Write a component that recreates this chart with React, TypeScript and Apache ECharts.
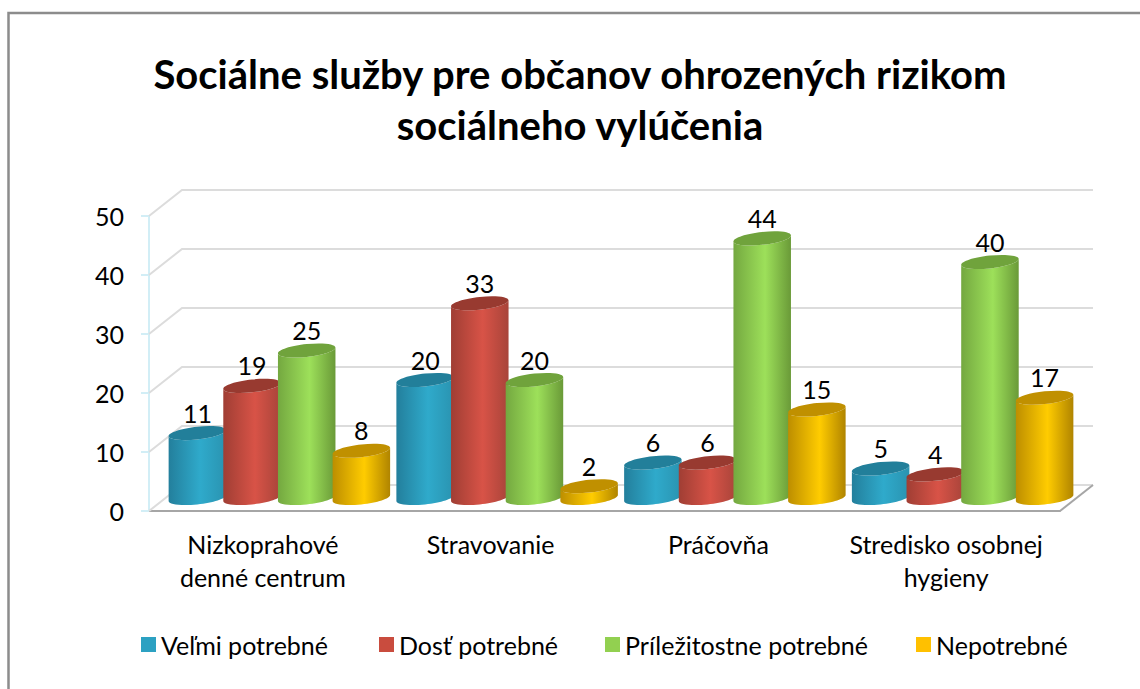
import React, { useEffect, useRef } from "react";
import * as echarts from "echarts";

const titleText = "Sociálne služby pre občanov ohrozených rizikom\nsociálneho vylúčenia";
const categories = ["Nizkoprahové\ndenné centrum", "Stravovanie", "Práčovňa", "Stredisko osobnej\nhygieny"];
const seriesNames = ["Veľmi potrebné", "Dosť potrebné", "Príležitostne potrebné", "Nepotrebné"];
const veryNeeded = [11, 20, 6, 5];
const quiteNeeded = [19, 33, 6, 4];
const occasionallyNeeded = [25, 20, 44, 40];
const notNeeded = [8, 2, 15, 17];
const yTicks = [0, 10, 20, 30, 40, 50];

const allValues = [veryNeeded, quiteNeeded, occasionallyNeeded, notNeeded];
const legendColors = ["#2ca1c2", "#c94c3e", "#92d050", "#ffc000"];
const topColors = ["#227f9a", "#983a30", "#70a33c", "#c09000"];
const gradients = [
  ["#237f9c", "#2faacb", "#2a93b0"],
  ["#a03e34", "#d85347", "#a8443a"],
  ["#74a840", "#9de05a", "#6a9a38"],
  ["#bd8e00", "#ffcc00", "#b08400"],
];
const legendLefts = [141, 379, 605, 916];

const DEPTH_X = 33;
const DEPTH_Y = 26;
const BAR_STEP_RATIO = 0.24;
const BAR_WIDTH_RATIO = 0.2525;
const K = 0.5523;

// Sheared ellipse: affine map of the unit circle, so that the right edge sits higher than the left.
function mapPoint(s: any, cy: number, u: number, v: number) {
  return [s.cx + s.a * u, cy + s.b * v - s.s * u];
}

const CylBody = echarts.graphic.extendShape({
  type: "cylBody",
  shape: { cx: 0, top: 0, base: 0, a: 1, b: 1, s: 0 },
  buildPath(ctx: any, shape: any) {
    const p = (u: number, v: number, cy: number) => mapPoint(shape, cy, u, v);
    const start = p(1, 0, shape.top);
    ctx.moveTo(start[0], start[1]);
    const r = p(1, 0, shape.base);
    ctx.lineTo(r[0], r[1]);
    let c1 = p(1, K, shape.base), c2 = p(K, 1, shape.base), e = p(0, 1, shape.base);
    ctx.bezierCurveTo(c1[0], c1[1], c2[0], c2[1], e[0], e[1]);
    c1 = p(-K, 1, shape.base); c2 = p(-1, K, shape.base); e = p(-1, 0, shape.base);
    ctx.bezierCurveTo(c1[0], c1[1], c2[0], c2[1], e[0], e[1]);
    e = p(-1, 0, shape.top);
    ctx.lineTo(e[0], e[1]);
    c1 = p(-1, K, shape.top); c2 = p(-K, 1, shape.top); e = p(0, 1, shape.top);
    ctx.bezierCurveTo(c1[0], c1[1], c2[0], c2[1], e[0], e[1]);
    c1 = p(K, 1, shape.top); c2 = p(1, K, shape.top); e = p(1, 0, shape.top);
    ctx.bezierCurveTo(c1[0], c1[1], c2[0], c2[1], e[0], e[1]);
    ctx.closePath();
  },
});

const CylTop = echarts.graphic.extendShape({
  type: "cylTop",
  shape: { cx: 0, top: 0, a: 1, b: 1, s: 0 },
  buildPath(ctx: any, shape: any) {
    const p = (u: number, v: number) => mapPoint(shape, shape.top, u, v);
    let e = p(1, 0);
    ctx.moveTo(e[0], e[1]);
    const segs = [
      [1, K, K, 1, 0, 1],
      [-K, 1, -1, K, -1, 0],
      [-1, -K, -K, -1, 0, -1],
      [K, -1, 1, -K, 1, 0],
    ];
    for (const q of segs) {
      const c1 = p(q[0], q[1]), c2 = p(q[2], q[3]);
      e = p(q[4], q[5]);
      ctx.bezierCurveTo(c1[0], c1[1], c2[0], c2[1], e[0], e[1]);
    }
    ctx.closePath();
  },
});

echarts.graphic.registerShape("cylBody", CylBody);
echarts.graphic.registerShape("cylTop", CylTop);

function cylinderRenderer(seriesIndex: number) {
  return (_params: any, api: any) => {
    const cat = api.value(0);
    const val = api.value(1);
    const band = api.size([1, 0])[0];
    const topPt = api.coord([cat, val]);
    const basePt = api.coord([cat, 0]);
    const cx = topPt[0] + DEPTH_X / 2 + (seriesIndex - 1.5) * band * BAR_STEP_RATIO;
    const top = topPt[1] - DEPTH_Y / 2;
    const base = basePt[1] - DEPTH_Y / 2;
    const a = (band * BAR_WIDTH_RATIO) / 2;
    const b = 6.4;
    const s = 3;
    const g = gradients[seriesIndex];
    return {
      type: "group",
      children: [
        {
          type: "cylBody",
          shape: { cx, top, base, a, b, s },
          style: {
            fill: new echarts.graphic.LinearGradient(0, 0, 1, 0, [
              { offset: 0, color: g[0] },
              { offset: 0.55, color: g[1] },
              { offset: 1, color: g[2] },
            ]),
          },
        },
        { type: "cylTop", shape: { cx, top, a, b, s }, style: { fill: topColors[seriesIndex] } },
        {
          type: "text",
          x: cx,
          y: top - 20.5,
          style: {
            text: String(val),
            fill: "#000",
            font: "25px Lato",
            align: "center",
            verticalAlign: "middle",
          },
        },
      ],
    };
  };
}

function wallRenderer(params: any, api: any) {
  const v = api.value(0);
  const pt = api.coord([0, v]);
  const sys = params.coordSys;
  const left = sys.x;
  const right = sys.x + sys.width;
  const y = pt[1];
  const children: any[] = [
    {
      type: "polyline",
      shape: { points: [[left, y], [left + DEPTH_X, y - DEPTH_Y], [right + DEPTH_X, y - DEPTH_Y]] },
      style: { stroke: "#dcdcdc", lineWidth: 2, fill: "none" },
    },
  ];
  if (v === 0) {
    children.push({
      type: "line",
      shape: { x1: right, y1: y, x2: right + DEPTH_X, y2: y - DEPTH_Y },
      style: { stroke: "#a6a6a6", lineWidth: 2 },
    });
  }
  return { type: "group", children };
}

export default function App() {
  const ref = useRef<HTMLDivElement>(null);
  useEffect(() => {
    document.body.style.margin = "0";
    const chart = echarts.init(ref.current!, null, { renderer: "svg" });
    chart.setOption({
      animation: false,
      backgroundColor: "#fff",
      title: {
        text: titleText,
        left: 575,
        top: 43,
        textAlign: "center",
        textStyle: { fontFamily: "Lato", fontSize: 40, fontWeight: "bold", color: "#000", lineHeight: 51 },
      },
      graphic: [
        {
          type: "rect",
          shape: { x: 8.5, y: 13, width: 1160, height: 720 },
          style: { fill: "none", stroke: "#8c8c8c", lineWidth: 2.5 },
          z: -1,
        },
      ],
      legend: seriesNames.map((name, i) => ({
        data: [name],
        left: legendLefts[i],
        top: 632,
        padding: 0,
        itemWidth: 15,
        itemHeight: 15,
        icon: "rect",
        textStyle: { fontFamily: "Lato", fontSize: 25, color: "#000" },
      })),
      grid: { left: 149, right: 80, top: 216, height: 295 },
      xAxis: {
        type: "category",
        data: categories,
        axisTick: { show: false },
        axisLine: { lineStyle: { color: "#a6a6a6", width: 2 } },
        axisLabel: { fontFamily: "Lato", fontSize: 25, color: "#000", lineHeight: 33, margin: 16, interval: 0 },
      },
      yAxis: {
        type: "value",
        min: 0,
        max: 50,
        interval: 10,
        axisLine: { show: true, lineStyle: { color: "#d2eef6", width: 2 } },
        axisTick: { show: true, length: 8, lineStyle: { color: "#d2eef6", width: 2 } },
        splitLine: { show: false },
        axisLabel: { fontFamily: "Lato", fontSize: 25, color: "#000", margin: 25 },
      },
      series: [
        {
          type: "custom",
          name: "walls",
          silent: true,
          renderItem: wallRenderer,
          data: yTicks.map((v) => [v]),
          encode: { y: 0 },
          z: 1,
        },
        ...seriesNames.map((name, i) => ({
          type: "custom",
          name,
          itemStyle: { color: legendColors[i] },
          renderItem: cylinderRenderer(i),
          data: allValues[i].map((v, c) => [c, v]),
          encode: { x: 0, y: 1 },
          z: 2 + i,
        })),
      ],
    });
    return () => chart.dispose();
  }, []);
  return <div ref={ref} style={{ width: 1140, height: 689 }} />;
}
